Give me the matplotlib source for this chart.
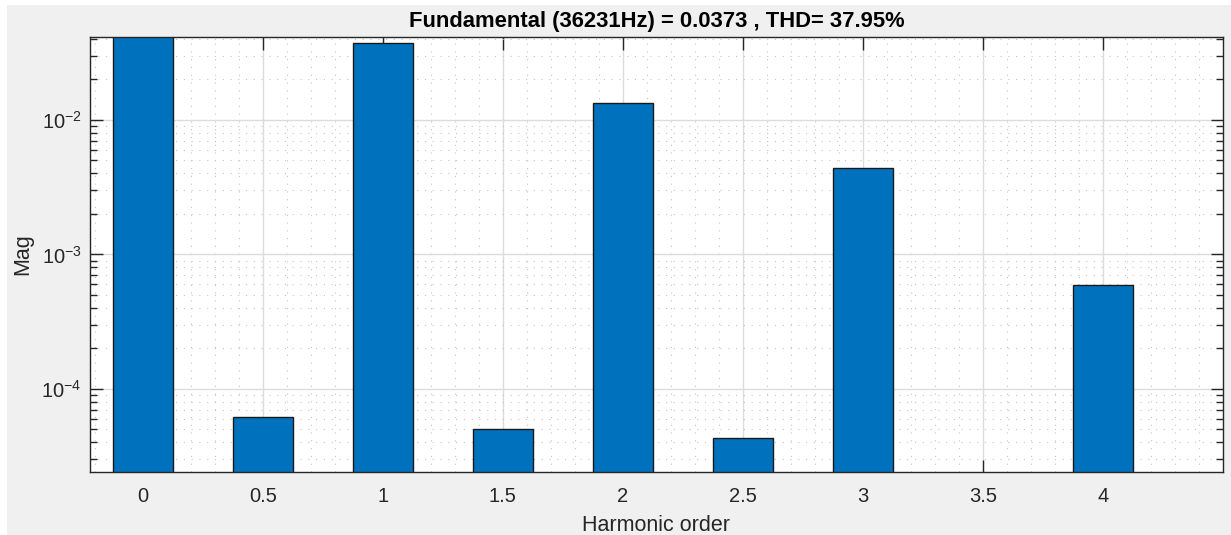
import matplotlib
matplotlib.use("Agg")
import matplotlib.pyplot as plt
from matplotlib.patches import Rectangle
from matplotlib.ticker import LogLocator, MultipleLocator, NullFormatter

plt.rcParams["font.family"] = ["Liberation Sans", "DejaVu Sans"]
plt.rcParams["mathtext.default"] = "regular"

# harmonic spectrum (order, magnitude)
orders = [0, 0.5, 1, 1.5, 2, 2.5, 3, 3.5, 4]
mags = [0.12, 6.2e-5, 0.0373, 5.02e-5, 0.01337, 4.33e-5, 4.37e-3, 1.0e-5, 5.96e-4]
xticks = [0, 0.5, 1, 1.5, 2, 2.5, 3, 3.5, 4]
xticklabels = ["0", "0.5", "1", "1.5", "2", "2.5", "3", "3.5", "4"]
fund_hz = 36231
fund_mag = 0.0373
thd = 37.95

W, H = 1231, 535
fig = plt.figure(figsize=(W / 100, H / 100), dpi=100, facecolor="#f0f0f0")
# thin white margin at top and left
fig.patches.append(Rectangle((0, 1 - 5 / H), 1, 5 / H, transform=fig.transFigure,
                             facecolor="white", edgecolor="none", zorder=-1))
fig.patches.append(Rectangle((0, 0), 7 / W, 1, transform=fig.transFigure,
                             facecolor="white", edgecolor="none", zorder=-1))

ax = fig.add_axes([90 / W, 1 - 472 / H, (1223 - 90) / W, (472 - 37) / H])
ax.set_facecolor("white")

ax.bar(orders, mags, width=0.25, color="#0072BD", edgecolor="#1a1a1a",
       linewidth=1.0, zorder=3, bottom=1e-7)

ax.set_yscale("log")
ax.set_xlim(-0.22, 4.5)
ax.set_ylim(2.41e-5, 0.0414)

ax.set_xticks(xticks)
ax.set_xticklabels(xticklabels)
ax.xaxis.set_minor_locator(MultipleLocator(0.1))
ax.yaxis.set_major_locator(LogLocator(base=10, numticks=10))
ax.yaxis.set_minor_locator(LogLocator(base=10, subs=range(2, 10), numticks=20))
ax.yaxis.set_minor_formatter(NullFormatter())

ax.grid(True, which="major", color="#dcdcdc", linewidth=1.0, zorder=0)
ax.grid(True, which="minor", color="#c4c4c4", linestyle=(0, (1, 6)),
        linewidth=0.8, zorder=0)
ax.set_axisbelow(True)

ax.tick_params(which="both", direction="in", top=True, right=True,
               colors="#262626", labelsize=14.5)
ax.tick_params(axis="x", which="major", length=9, width=1.0, pad=11)
ax.tick_params(axis="x", which="minor", length=0)
ax.tick_params(axis="y", which="major", length=9, width=1.0, pad=6)
ax.tick_params(axis="y", which="minor", length=5, width=1.0)

for s in ax.spines.values():
    s.set_color("#262626")
    s.set_linewidth(1.0)
    s.set_zorder(5)

ax.set_xlabel("Harmonic order", fontsize=15.5, color="#262626", labelpad=6)
ax.set_ylabel("Mag", fontsize=15.5, color="#262626", labelpad=6)
ax.set_title(f"Fundamental ({fund_hz}Hz) = {fund_mag} , THD= {thd:.2f}%",
             fontsize=15.8, fontweight="bold", color="black", pad=7)

fig.savefig("out.png", dpi=100, facecolor=fig.get_facecolor())
